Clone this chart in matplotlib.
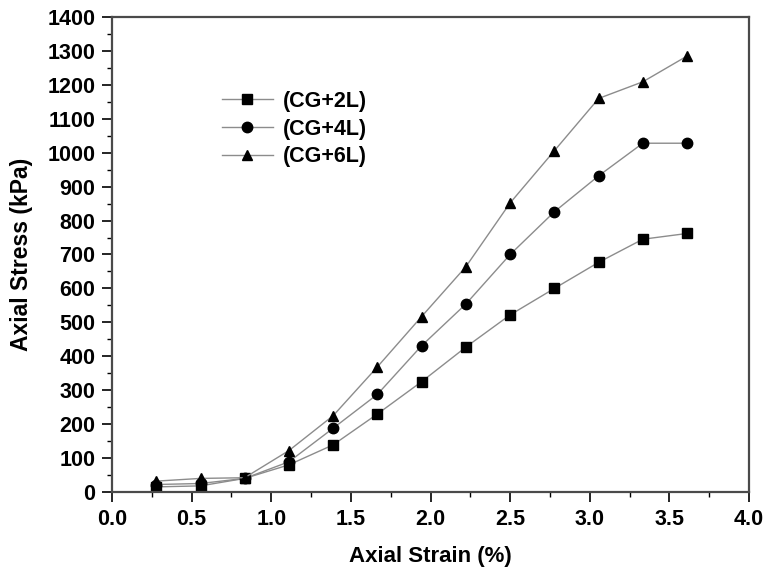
import numpy as np
import matplotlib
matplotlib.use("Agg")
import matplotlib.pyplot as plt
from matplotlib.ticker import MultipleLocator

# strain (%) and stress (kPa)
strain = [0.278, 0.556, 0.833, 1.111, 1.389, 1.667, 1.944, 2.222, 2.5, 2.778, 3.056, 3.333, 3.611]
stress_2L = [15, 18, 40, 80, 139, 230, 325, 427, 522, 600, 677, 745, 762]
stress_4L = [22, 25, 40, 89, 188, 288, 431, 554, 700, 826, 932, 1028, 1028]
stress_6L = [32, 40, 42, 122, 225, 369, 517, 664, 852, 1006, 1160, 1209, 1285]

labels = ["(CG+2L)", "(CG+4L)", "(CG+6L)"]
markers = ["s", "o", "^"]

plt.rcParams["font.family"] = ["Liberation Sans", "DejaVu Sans"]
plt.rcParams["font.weight"] = "bold"

fig = plt.figure(figsize=(7.68, 5.73), dpi=100)
ax = fig.add_axes([0.1458, 0.1414, 0.8295, 0.8289])

for ys, lab, mk in zip([stress_2L, stress_4L, stress_6L], labels, markers):
    ax.plot(strain, ys, color="#8c8c8c", lw=1.0, marker=mk, markersize=7.5,
            markerfacecolor="black", markeredgecolor="black", label=lab)

ax.set_xlim(0, 4.0)
ax.set_ylim(0, 1400)
ax.xaxis.set_major_locator(MultipleLocator(0.5))
ax.xaxis.set_minor_locator(MultipleLocator(0.25))
ax.yaxis.set_major_locator(MultipleLocator(100))
ax.yaxis.set_minor_locator(MultipleLocator(50))
ax.tick_params(which="major", direction="out", length=7, width=1.2, labelsize=15.5, pad=5)
ax.tick_params(which="minor", direction="out", length=3.5, width=1.0)
for s in ax.spines.values():
    s.set_linewidth(1.6)
    s.set_color("#4a4a4a")

ax.set_xlabel("Axial Strain (%)", fontsize=16, fontweight="bold", labelpad=12)
ax.set_ylabel("Axial Stress (kPa)", fontsize=16.5, fontweight="bold", labelpad=10)

leg = ax.legend(loc="upper left", bbox_to_anchor=(0.172, 0.845), frameon=False,
                borderpad=0, borderaxespad=0,
                handlelength=2.4, labelspacing=0.32, fontsize=15.5, handletextpad=0.45)

fig.savefig("out.png", dpi=100)
